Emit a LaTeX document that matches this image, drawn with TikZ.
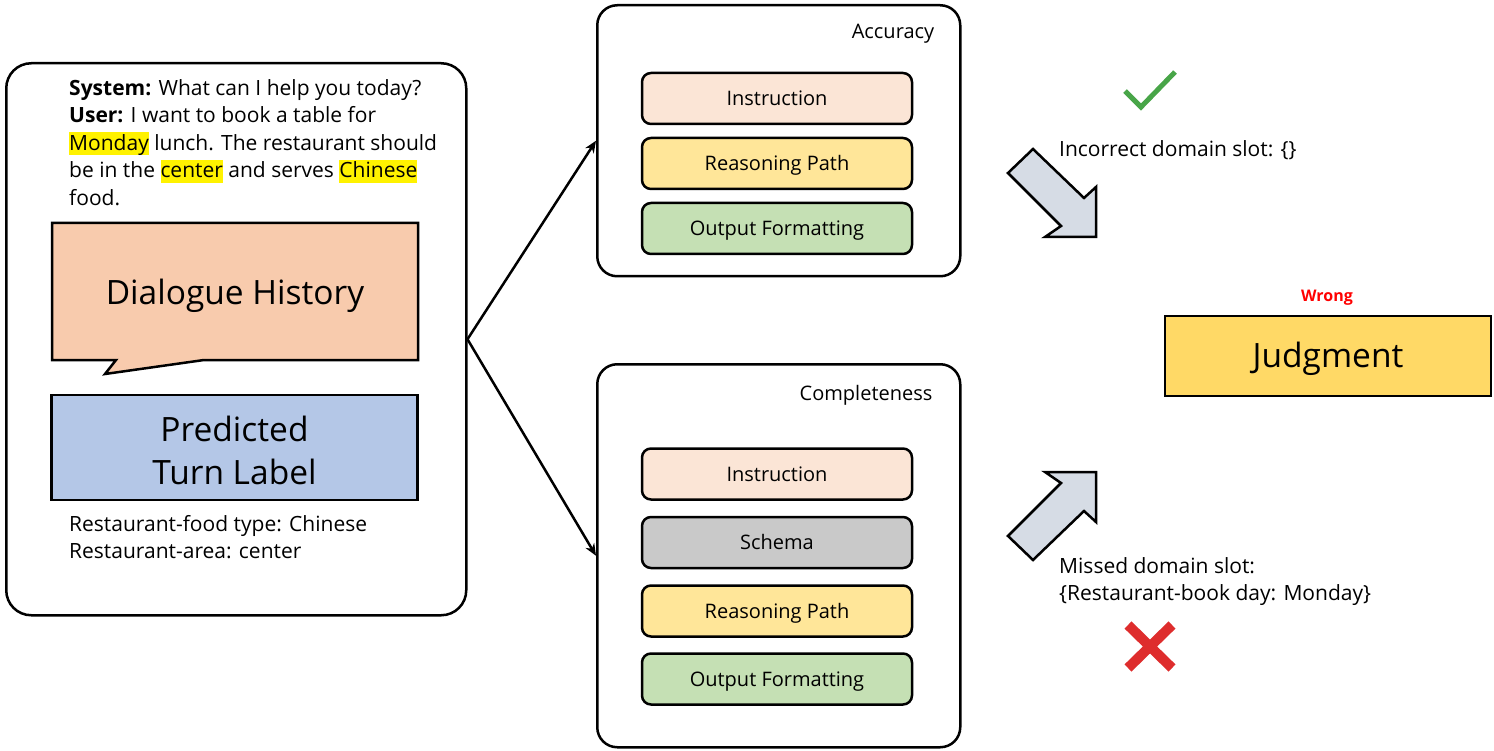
\documentclass[tikz,border=0pt]{standalone}
\usepackage{fontspec}
\setmainfont{Open Sans}
\usetikzlibrary{arrows.meta}
\definecolor{bubble}{HTML}{F8CBAD}
\definecolor{predblue}{HTML}{B4C7E7}
\definecolor{instr}{HTML}{FBE5D6}
\definecolor{reason}{HTML}{FFE699}
\definecolor{outfmt}{HTML}{C5E0B4}
\definecolor{schema}{HTML}{C9C9C9}
\definecolor{judge}{HTML}{FFD966}
\definecolor{blockarrow}{HTML}{D6DCE5}
\definecolor{checkgreen}{RGB}{72,165,72}
\definecolor{crossred}{RGB}{222,45,45}
\newcommand\hlword[1]{{\setlength{\fboxsep}{0pt}\colorbox{yellow}{\rule[-5pt]{0pt}{23pt}#1}}}
\tikzset{
  outerbox/.style={draw=black, line width=2.5pt, rounded corners=20pt, fill=white},
  innerbox/.style={draw=black, line width=2.5pt, rounded corners=9pt, minimum width=270pt, minimum height=51pt, font=\fontsize{20}{24}\selectfont, inner sep=0pt, text depth=0pt, text height=14.5pt},
  bodytext/.style={font=\fontsize{21}{27.6}\selectfont, align=left, inner sep=0pt},
  bigtext/.style={font=\fontsize{33.5}{43}\selectfont, align=center},
  flowarrow/.style={line width=2.5pt, -{Stealth[length=12pt,width=10pt]}},
  blockarr/.style={draw=black, line width=2.5pt, fill=blockarrow, line join=miter},
}
\begin{document}
\begin{tikzpicture}[x=1pt,y=-1pt]
\useasboundingbox (0,0) rectangle (1494,751);
% left context box
\node[outerbox, rounded corners=25pt, minimum width=460pt, minimum height=552pt, anchor=north west] (ctx) at (5,62) {};
\node[bodytext, anchor=north west] (dial) at (69,79) {\textbf{System:} What can I help you today?\\
\textbf{User:} I want to book a table for\\
\hlword{Monday} lunch. The restaurant should\\
be in the \hlword{center} and serves \hlword{Chinese}\\
food.};
% speech bubble
\draw[fill=bubble, line width=2.5pt, line join=miter] (52,223) -- (418,223) -- (418,360) -- (204,360) -- (105,374) -- (116,360) -- (52,360) -- cycle;
\node[bigtext] (dh) at (235,296) {Dialogue History};
% predicted turn label
\node[draw=black, line width=2.5pt, fill=predblue, minimum width=366pt, minimum height=105pt, inner sep=0pt] (ptl) at (234.5,447.5) {};
\node[bigtext] (ptlt) at (234.5,450) {Predicted\\Turn Label};
\node[bodytext, anchor=north west] (labels) at (69,515) {Restaurant-food type: Chinese\\Restaurant-area: center};
% accuracy box
\node[outerbox, minimum width=363pt, minimum height=271pt, anchor=north west] (acc) at (596,4) {};
\node[font=\fontsize{20}{24}\selectfont] (acct) at (893,34) {Accuracy};
\node[innerbox, fill=instr] (ai) at (777,98.5) {Instruction};
\node[innerbox, fill=reason] (ar) at (777,163.5) {Reasoning Path};
\node[innerbox, fill=outfmt] (ao) at (777,228.5) {Output Formatting};
% completeness box
\node[outerbox, minimum width=363pt, minimum height=383pt, anchor=north west] (comp) at (596,363) {};
\node[font=\fontsize{20}{24}\selectfont] (compt) at (866,395) {Completeness};
\node[innerbox, fill=instr] (ci) at (777,474) {Instruction};
\node[innerbox, fill=schema] (cs) at (777,542.5) {Schema};
\node[innerbox, fill=reason] (cr) at (777,611) {Reasoning Path};
\node[innerbox, fill=outfmt] (co) at (777,679) {Output Formatting};
% flow arrows
\draw[flowarrow] (ctx.east) -- (acc.west);
\draw[flowarrow] (ctx.east) -- (comp.west);
% check mark
\draw[checkgreen, line width=5pt, line cap=butt, line join=miter] (1125,91) -- (1141,107) -- (1175,72);
\node[bodytext, anchor=west] (inc) at (1059,150) {Incorrect domain slot: \{\}};
% block arrows
\draw[blockarr] (1033,149) -- (1084,198) -- (1096,187) -- (1096,237) -- (1045,237) -- (1061,226) -- (1008,173) -- cycle;
\draw[blockarr] (1033,560) -- (1084,511) -- (1096,522) -- (1096,472) -- (1045,472) -- (1061,483) -- (1008,536) -- cycle;
% judgment
\node[font=\bfseries\fontsize{16}{18}\selectfont, text=red] (wrong) at (1327,298) {Wrong};
\node[draw=black, line width=2.5pt, fill=judge, minimum width=326pt, minimum height=80pt, inner sep=0pt] (judg) at (1328,356) {};
\node[bigtext] (judgt) at (1328,359) {Judgment};
% missed slot
\node[bodytext, anchor=north west] (miss) at (1059,557) {Missed domain slot:\\\{Restaurant-book day: Monday\}};
% cross
\draw[crossred, line width=10pt] (1128,625) -- (1172,668) (1172,625) -- (1128,668);
\end{tikzpicture}
\end{document}
